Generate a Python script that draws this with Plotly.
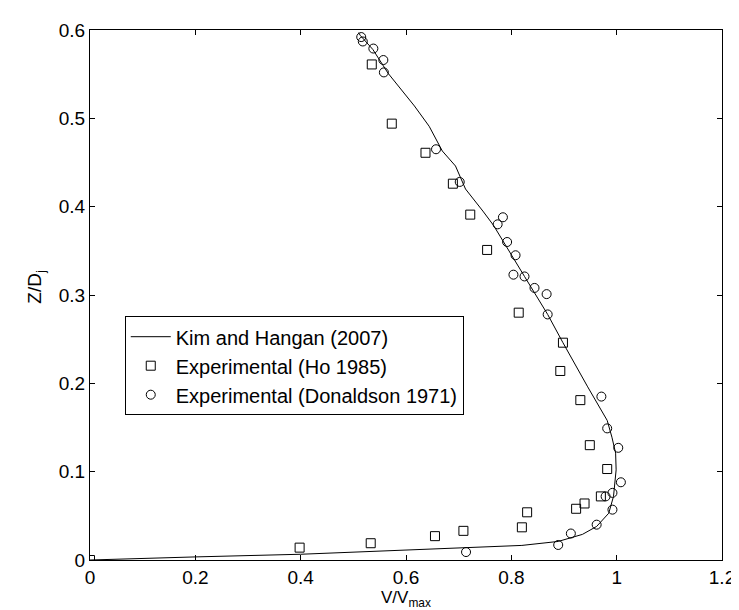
import plotly.graph_objects as go

# Kim and Hangan (2007) - numerical profile
kh_v = [0.0, 0.1, 0.2, 0.4, 0.56, 0.714, 0.82, 0.889, 0.935, 0.962, 0.985, 0.994,
        0.999, 0.998, 0.991, 0.982, 0.945, 0.898, 0.869, 0.825, 0.766, 0.746,
        0.713, 0.694, 0.669, 0.644, 0.616, 0.566, 0.537, 0.513, 0.51]
kh_z = [0.0, 0.002, 0.0035, 0.0065, 0.010, 0.014, 0.0165, 0.021, 0.029, 0.038, 0.053, 0.072,
        0.102, 0.121, 0.139, 0.158, 0.196, 0.246, 0.278, 0.321, 0.379, 0.395,
        0.420, 0.446, 0.463, 0.491, 0.514, 0.551, 0.578, 0.594, 0.597]

# Experimental (Ho 1985)
ho_v = [0.0, 0.398, 0.533, 0.655, 0.709, 0.820, 0.830, 0.923, 0.939, 0.970, 0.982,
        0.949, 0.931, 0.893, 0.898, 0.814, 0.754, 0.722, 0.689, 0.637, 0.573, 0.535]
ho_z = [0.0, 0.014, 0.019, 0.027, 0.033, 0.037, 0.054, 0.058, 0.064, 0.072, 0.103,
        0.130, 0.181, 0.214, 0.246, 0.280, 0.351, 0.391, 0.426, 0.461, 0.494, 0.561]

# Experimental (Donaldson 1971)
do_v = [0.515, 0.518, 0.538, 0.557, 0.558, 0.657, 0.702, 0.784, 0.774, 0.792, 0.808,
        0.804, 0.825, 0.844, 0.867, 0.869, 0.971, 0.982, 1.003, 1.008, 0.992, 0.979,
        0.992, 0.962, 0.913, 0.889, 0.714]
do_z = [0.592, 0.587, 0.579, 0.566, 0.552, 0.465, 0.428, 0.388, 0.380, 0.360, 0.345,
        0.323, 0.321, 0.308, 0.301, 0.278, 0.185, 0.149, 0.127, 0.088, 0.076, 0.072,
        0.057, 0.040, 0.030, 0.017, 0.009]

x_ticks = [0, 0.2, 0.4, 0.6, 0.8, 1, 1.2]
y_ticks = [0, 0.1, 0.2, 0.3, 0.4, 0.5, 0.6]

FONT = "Liberation Sans, Arial, sans-serif"

fig = go.Figure()
fig.add_trace(go.Scatter(x=kh_v, y=kh_z, mode="lines", name="Kim and Hangan (2007)",
                         line=dict(color="black", width=1)))
fig.add_trace(go.Scatter(x=ho_v, y=ho_z, mode="markers", name="Experimental (Ho 1985)",
                         marker=dict(symbol="square-open", size=9, color="black",
                                     line=dict(width=1))))
fig.add_trace(go.Scatter(x=do_v, y=do_z, mode="markers", name="Experimental (Donaldson 1971)",
                         marker=dict(symbol="circle-open", size=9, color="black",
                                     line=dict(width=1))))

axis_common = dict(showline=True, linecolor="black", linewidth=1, mirror="ticks",
                   ticks="inside", ticklen=5, tickcolor="black", showgrid=False,
                   zeroline=False, tickfont=dict(family=FONT, size=19, color="black"))

fig.update_layout(
    width=739, height=610,
    margin=dict(l=82, r=18, t=20, b=58),
    paper_bgcolor="white", plot_bgcolor="white",
    font=dict(family=FONT, size=19, color="black"),
    xaxis=dict(range=[0, 1.2], tickvals=x_ticks, ticktext=[str(v) for v in x_ticks],
               **axis_common),
    yaxis=dict(range=[0, 0.6], tickvals=y_ticks, ticktext=[str(v) for v in y_ticks],
               **axis_common),
    legend=dict(x=0.055, y=0.46, xanchor="left", yanchor="top",
                bgcolor="white", bordercolor="black", borderwidth=1,
                font=dict(family=FONT, size=20, color="black"),
                itemwidth=40, tracegroupgap=0),
    showlegend=True,
    annotations=[
        dict(text="V/V<sub>max</sub>", xref="paper", yref="paper", x=0.5, y=-0.099,
             xanchor="center", yanchor="bottom", showarrow=False,
             font=dict(family=FONT, size=17, color="black")),
        dict(text="Z/D<sub>j</sub>", xref="paper", yref="paper", x=-0.086, y=0.515,
             xanchor="center", yanchor="middle", textangle=-90, showarrow=False,
             font=dict(family=FONT, size=19, color="black")),
    ],
)

fig.write_html("out.html")
